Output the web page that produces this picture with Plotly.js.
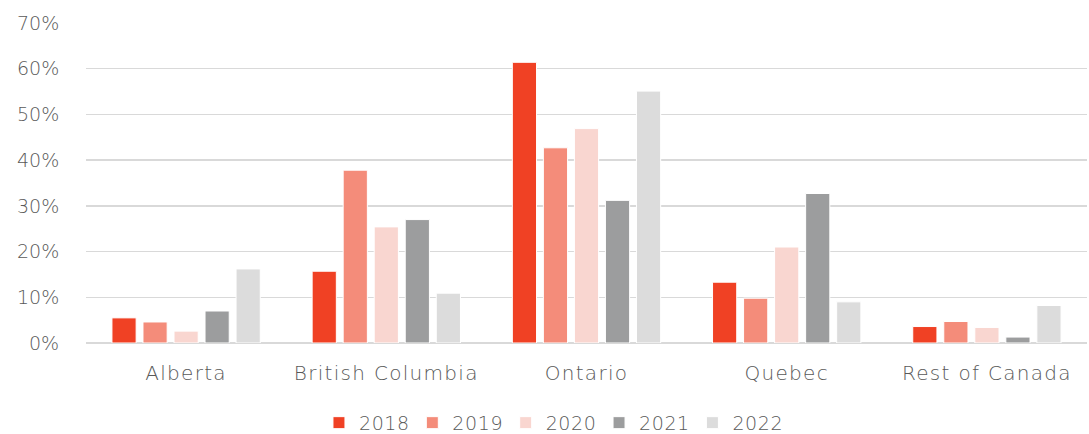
<!DOCTYPE html>
<html>
<head>
<meta charset="utf-8">
<script src="https://cdn.plot.ly/plotly-3.0.1.min.js"></script>
<style>
html,body{margin:0;padding:0;background:#fff;}
#chart{width:1089px;height:434px;}
#chart .xtick text{letter-spacing:1.3px;}
#chart .legendtext{letter-spacing:0.6px;}
</style>
</head>
<body>
<div id="chart"></div>
<script>
const categories = ["Alberta", "British Columbia", "Ontario", "Quebec", "Rest of Canada"];
const years = ["2018", "2019", "2020", "2021", "2022"];
const v2018 = [0.055, 0.157, 0.614, 0.133, 0.036];
const v2019 = [0.046, 0.378, 0.427, 0.098, 0.047];
const v2020 = [0.026, 0.254, 0.469, 0.210, 0.034];
const v2021 = [0.070, 0.270, 0.312, 0.327, 0.013];
const v2022 = [0.162, 0.109, 0.551, 0.090, 0.082];
const colors = ["#F04124", "#F48C7A", "#F9D6D0", "#9C9D9E", "#DCDCDC"];
const seriesValues = [v2018, v2019, v2020, v2021, v2022];
const yTicks = [0, 0.1, 0.2, 0.3, 0.4, 0.5, 0.6, 0.7];

const font = "'DejaVu Sans', sans-serif";
const traces = years.map((y, i) => ({
  type: "bar",
  name: y,
  x: categories,
  y: seriesValues[i],
  marker: {color: colors[i], line: {color: "#ffffff", width: 1}},
  hoverinfo: "x+y+name"
}));

const layout = {
  width: 1089, height: 434,
  margin: {l: 86, r: 2, t: 23, b: 91, autoexpand: false},
  paper_bgcolor: "#ffffff", plot_bgcolor: "#ffffff",
  barmode: "group", bargap: 0.225, bargroupgap: 0.22,
  font: {family: font, color: "#595959", size: 19, weight: 200},
  xaxis: {
    showgrid: false, showline: false, zeroline: false,
    tickfont: {family: font, size: 20, color: "#595959", weight: 200},
    ticks: "outside", ticklen: 12, tickcolor: "rgba(0,0,0,0)"
  },
  yaxis: {
    range: [0, 0.7], tickvals: yTicks, tickformat: ".0%",
    showgrid: true, gridcolor: "#D9D9D9", gridwidth: 1.5,
    zeroline: true, zerolinecolor: "#D9D9D9", zerolinewidth: 1.5,
    showline: false,
    ticks: "outside", ticklen: 22, tickcolor: "rgba(0,0,0,0)",
    tickfont: {family: font, size: 19, color: "#595959", weight: 200}
  },
  legend: {
    orientation: "h", x: 0.466, xanchor: "center", y: -0.19, yanchor: "top",
    font: {family: font, size: 19, color: "#595959", weight: 200},
    itemwidth: 30, traceorder: "normal"
  },
  showlegend: true
};

Plotly.newPlot("chart", traces, layout, {displayModeBar: false, staticPlot: true});
</script>
</body>
</html>
